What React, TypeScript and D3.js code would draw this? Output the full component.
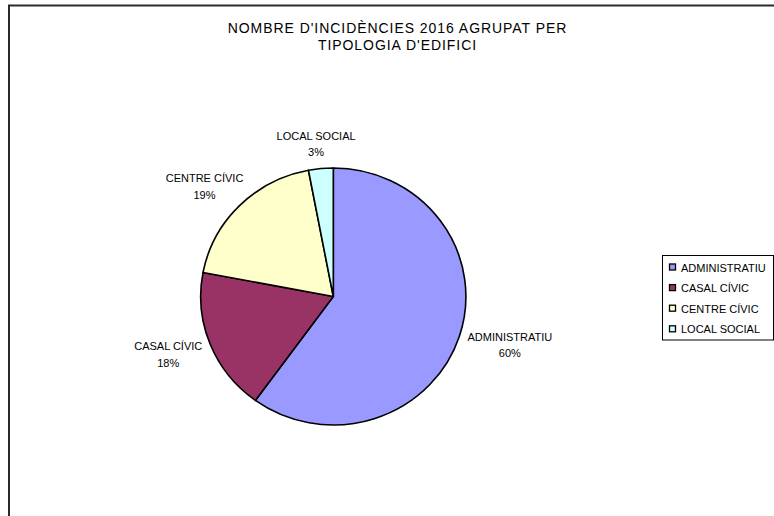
import React from "react";
import * as d3 from "d3";

const categories = ["ADMINISTRATIU", "CASAL CÍVIC", "CENTRE CÍVIC", "LOCAL SOCIAL"];
const values = [60, 18, 19, 3];
const colors = ["#9999FF", "#993366", "#FFFFCC", "#CCFFFF"];
const titleLines = ["NOMBRE D'INCIDÈNCIES 2016 AGRUPAT PER", "TIPOLOGIA D'EDIFICI"];

const W = 774;
const H = 516;
const FONT = "'Liberation Sans', Arial, sans-serif";

function textWidth(s: string, size: number) {
  if (typeof document === "undefined") return s.length * size * 0.6;
  const c = document.createElement("canvas").getContext("2d")!;
  c.font = `${size}px 'Liberation Sans'`;
  return c.measureText(s).width;
}

export default function App() {
  const cx = 333.3;
  const cy = 296.5;
  const ry = 128.5;
  const rx = 132.6;
  const sx = rx / ry;
  const total = d3.sum(values);
  const pie = d3.pie<number>().sort(null).value((d) => d)(values);
  const arc = d3.arc<d3.PieArcDatum<number>>().innerRadius(0).outerRadius(ry);
  const pct = (v: number) => d3.format(".0%")(v / total);

  const gap = 10.7;
  const labels = pie.map((p, i) => {
    const a = (p.startAngle + p.endAngle) / 2;
    const dx = Math.sin(a);
    const dy = -Math.cos(a);
    const w = Math.max(textWidth(categories[i], 11), textWidth(pct(values[i]), 11));
    const lx = cx + dx * (rx + gap + w / 2);
    const ly = cy + dy * (ry + gap + 17) + (Math.abs(dy) > 0.95 ? 3 : 0);
    return { x: lx, y: ly };
  });

  const legendY = d3.scalePoint<number>().domain(d3.range(categories.length)).range([267.5, 329.3]);

  return (
    <svg
      width={W}
      height={H}
      style={{ position: "absolute", left: 0, top: 0, background: "#fff" }}
      fontFamily={FONT}
    >
      <rect x={0} y={0} width={W} height={H} fill="#fff" />
      <rect x={9} y={5.5} width={W + 20} height={H + 20} fill="none" stroke="#2a2a2a" strokeWidth={2} />
      {titleLines.map((t, i) => (
        <text key={i} x={397.5} y={32.7 + i * 16.8} textAnchor="middle" fontSize={14} letterSpacing={0.95} fill="#000">
          {t}
        </text>
      ))}
      <g transform={`translate(${cx},${cy}) scale(${sx},1)`}>
        {pie.map((p, i) => (
          <path
            key={i}
            d={arc(p) || ""}
            fill={colors[i]}
            stroke="#000"
            strokeWidth={1.6}
            strokeLinejoin="round"
            vectorEffect="non-scaling-stroke"
          />
        ))}
      </g>
      {labels.map((l, i) => (
        <g key={i} fontSize={11} fill="#000" textAnchor="middle">
          <text x={l.x} y={l.y - 4}>{categories[i]}</text>
          <text x={l.x} y={l.y + 12.5}>{pct(values[i])}</text>
        </g>
      ))}
      <rect x={662.5} y={255.5} width={111} height={84.5} fill="#fff" stroke="#000" strokeWidth={1} />
      {categories.map((c, i) => (
        <g key={c}>
          <rect
            x={669.5}
            y={legendY(i)! - 3.5}
            width={6}
            height={6}
            fill={colors[i]}
            stroke="#000"
            strokeWidth={1.3}
          />
          <text x={681} y={legendY(i)! + 4} fontSize={11} fill="#000">
            {c}
          </text>
        </g>
      ))}
    </svg>
  );
}
